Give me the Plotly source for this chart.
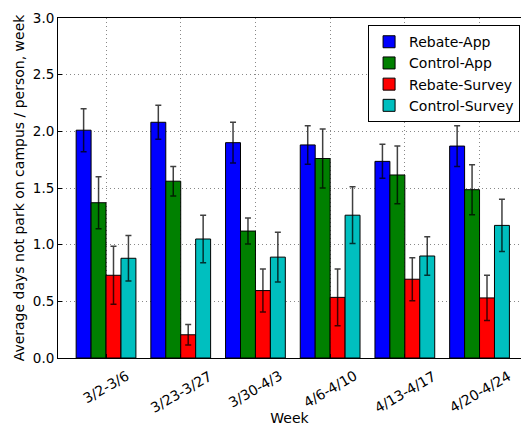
import plotly.graph_objects as go

weeks = ["3/2-3/6", "3/23-3/27", "3/30-4/3", "4/6-4/10", "4/13-4/17", "4/20-4/24"]
rebate_app = [2.01, 2.08, 1.90, 1.88, 1.735, 1.87]
rebate_app_err = [0.19, 0.15, 0.18, 0.17, 0.15, 0.18]
control_app = [1.37, 1.56, 1.12, 1.76, 1.615, 1.485]
control_app_err = [0.23, 0.13, 0.115, 0.26, 0.255, 0.22]
rebate_survey = [0.73, 0.205, 0.595, 0.535, 0.695, 0.53]
rebate_survey_err = [0.255, 0.09, 0.19, 0.25, 0.19, 0.20]
control_survey = [0.88, 1.05, 0.89, 1.26, 0.90, 1.17]
control_survey_err = [0.20, 0.21, 0.22, 0.25, 0.17, 0.23]

series = [
    ("Rebate-App", rebate_app, rebate_app_err, "#0000ff"),
    ("Control-App", control_app, control_app_err, "#008000"),
    ("Rebate-Survey", rebate_survey, rebate_survey_err, "#ff0000"),
    ("Control-Survey", control_survey, control_survey_err, "#00bfbf"),
]

FONT = "DejaVu Sans"
fig = go.Figure()
for name, vals, errs, col in series:
    fig.add_trace(go.Bar(
        name=name, x=weeks, y=vals,
        marker=dict(color=col, line=dict(color="black", width=1)),
        error_y=dict(type="data", array=errs, visible=True,
                     color="rgba(0,0,0,0.75)", thickness=1.5, width=3),
    ))

# rotated, centred category labels (matplotlib style)
for w in weeks:
    fig.add_annotation(x=w, xref="x", y=0, yref="paper", text=w,
                       showarrow=False, textangle=-30,
                       xanchor="center", yanchor="top", yshift=-7,
                       font=dict(family=FONT, size=14, color="black"))

fig.update_layout(
    width=521, height=426,
    margin=dict(l=58, r=0, t=18, b=68),
    plot_bgcolor="white", paper_bgcolor="white",
    barmode="group", bargap=0.2, bargroupgap=0,
    font=dict(family=FONT, size=13, color="black"),
    legend=dict(x=0.998, y=0.979, xanchor="right", yanchor="top",
                bgcolor="white", bordercolor="black", borderwidth=1,
                font=dict(size=14), tracegroupgap=0),
    showlegend=True,
)
fig.update_xaxes(
    range=[-0.643, 5.555],
    showgrid=True, gridcolor="#888888", griddash="1px,3px", gridwidth=1,
    showline=True, linecolor="black", linewidth=1, mirror=True,
    ticks="inside", ticklen=4, tickcolor="black",
    showticklabels=False,
    title=dict(text="Week", font=dict(size=14), standoff=58),
)
fig.update_yaxes(
    range=[0, 3.0], dtick=0.5, tickformat=".1f",
    showgrid=True, gridcolor="#888888", griddash="1px,3px", gridwidth=1,
    showline=True, linecolor="black", linewidth=1, mirror=False,
    ticks="inside", ticklen=4, tickcolor="black",
    tickfont=dict(size=13.5), zeroline=False,
    title=dict(text="Average days not park on campus / person, week",
               font=dict(size=14), standoff=4),
)

fig.write_html("out.html", config={"displayModeBar": False},
               post_script="document.body.style.margin='0px';"
                           "document.body.style.overflow='hidden';")
